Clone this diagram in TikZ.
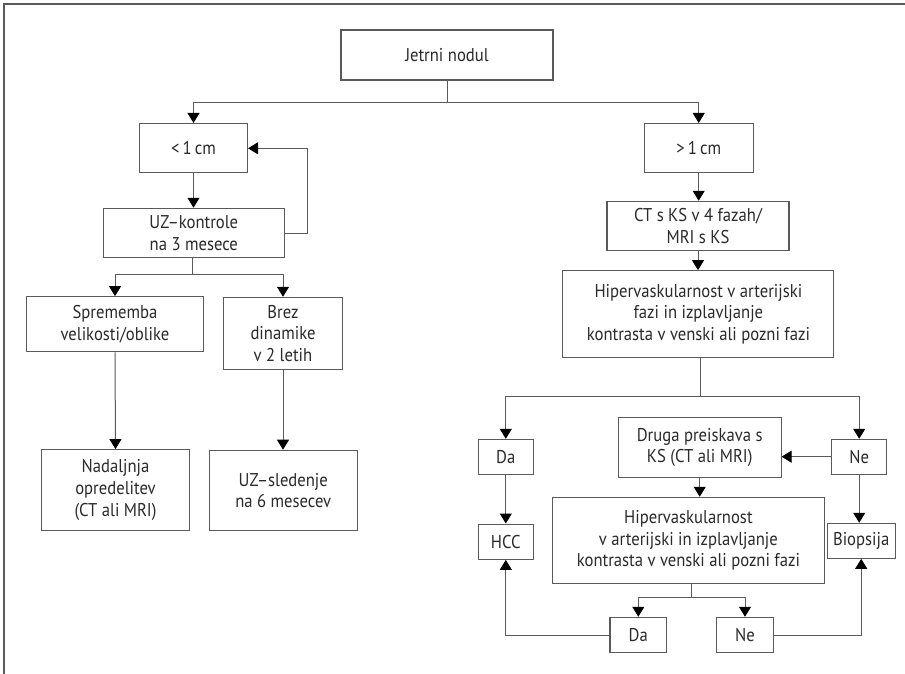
\documentclass[tikz,border=0pt]{standalone}
\usepackage{fontspec}
\setmainfont{PT Sans}[FakeStretch=0.9]
\usetikzlibrary{arrows.meta}
\definecolor{ln}{HTML}{5A5A5A}
\definecolor{tx}{HTML}{2A2A2A}
\tikzset{
  box/.style={draw=ln, line width=1.1pt, rectangle, align=center, inner sep=0pt,
    text=tx, font=\fontsize{18.5}{21.7}\selectfont},
  conn/.style={draw=ln, line width=1pt},
  arr/.style={conn, -{Triangle[width=12pt,length=10pt,color=black]}},
}
\newcommand{\bx}[6]{\node[box, minimum width=#4pt, minimum height=#5pt] (#1) at (#2,#3) {#6};}
\begin{document}
\begin{tikzpicture}[x=1pt,y=-1pt]
\useasboundingbox (0,0) rectangle (905,674);
\fill[white] (0,0) rectangle (905,674);
% frame
\coordinate (fTR) at (905,4);
\coordinate (fTL) at (4,4);
\coordinate (fBL) at (4,674);
\draw[ln, line width=1.3pt] (fTR) -- (fTL) -- (fBL);
% nodes
\bx{jet}{447}{55}{212}{50}{Jetrni nodul}
\bx{lt}{193.5}{148}{108}{49}{<\,1\,cm}
\bx{gt}{698.7}{148}{109}{49}{>\,1\,cm}
\bx{uz}{193.8}{233}{181}{49.4}{UZ–kontrole\\na 3 mesece}
\bx{ct}{698}{226}{182}{49.4}{CT s KS v 4 fazah/\\MRI s KS}
\bx{hipa}{698.4}{314}{271}{86.6}{Hipervaskularnost v arterijski\\fazi in izplavljanje\\kontrasta v venski ali pozni fazi}
\bx{spr}{115}{324.2}{176.6}{55}{Sprememba\\velikosti/oblike}
\bx{brez}{283}{333.3}{119.4}{72}{Brez\\dinamike\\v 2 letih}
\bx{nad}{115.5}{490}{147.6}{80.7}{Nadaljnja\\opredelitev\\(CT ali MRI)}
\bx{uzs}{283.3}{490.5}{148}{80.5}{UZ–sledenje\\na 6 mesecev}
\bx{daa}{505.8}{456.7}{55}{34.7}{Da}
\bx{nea}{859.2}{456.7}{55}{34.7}{Ne}
\bx{dru}{699.7}{447.5}{162.7}{59.6}{Druga preiskava s\\KS (CT ali MRI)}
\bx{hipb}{688.4}{540.3}{271.3}{86}{Hipervaskularnost\\v arterijski in izplavljanje\\kontrasta v venski ali pozni fazi}
\bx{hcc}{505.8}{541.7}{55}{35.3}{HCC}
\bx{bio}{861.2}{540.8}{67.7}{35}{Biopsija}
\bx{dab}{638.3}{635}{56.7}{35.4}{Da}
\bx{neb}{745}{635}{56.6}{35.4}{Ne}
% helper coordinates
\coordinate (j1) at (447,102.7);
\coordinate (u1) at (307.3,233.3);
\coordinate (u2) at (307.3,148.3);
\coordinate (s1) at (192.7,274.3);
\coordinate (h1) at (700,396);
\coordinate (hb0) at (691.7,583.3);
\coordinate (hb1) at (691.7,597.7);
% connectors
\draw[conn] (jet.south -| j1) -- (j1);
\draw[arr] (j1) -| (lt.north);
\draw[arr] (j1) -| (gt.north);
\draw[arr] (lt.south) -- (lt.south |- uz.north);
\draw[arr] (uz.east |- u1) -- (u1) -- (u2) -- (lt.east |- u2);
\draw[conn] (uz.south -| s1) -- (s1);
\draw[arr] (s1) -| (spr.north);
\draw[arr] (s1) -| (brez.north);
\draw[arr] (spr.south) -- (nad.north);
\draw[arr] (brez.south) -- (brez.south |- uzs.north);
\draw[arr] (gt.south) -- (gt.south |- ct.north);
\draw[arr] (ct.south) -- (ct.south |- hipa.north);
\draw[conn] (hipa.south -| h1) -- (h1);
\draw[arr] (h1) -| (daa.north);
\draw[arr] (h1) -| (nea.north);
\draw[arr] (nea.west) -- (dru.east |- nea.west);
\draw[arr] (dru.south) -- (dru.south |- hipb.north);
\draw[arr] (daa.south) -- (hcc.north);
\draw[arr] (nea.south) -- (nea.south |- bio.north);
\draw[conn] (hb0) -- (hb1);
\draw[arr] (hb1) -| (dab.north);
\draw[arr] (hb1) -| (neb.north);
\draw[arr] (dab.west) -| (hcc.south);
\draw[arr] (neb.east) -| (bio.south);
\end{tikzpicture}
\end{document}
